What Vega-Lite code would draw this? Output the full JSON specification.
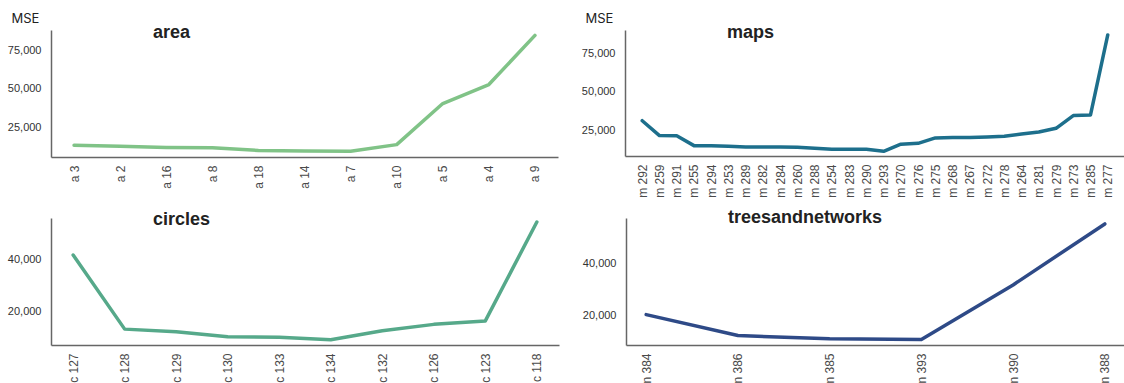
{
  "$schema": "https://vega.github.io/schema/vega-lite/v6.json",
  "background": "#ffffff",
  "padding": {"left": 7, "top": 12, "right": 0, "bottom": 0},
  "datasets": {
    "area": [
      {"label": "a 3", "mse": 13600}, {"label": "a 2", "mse": 12900}, {"label": "a 16", "mse": 12100},
      {"label": "a 8", "mse": 11900}, {"label": "a 18", "mse": 10200}, {"label": "a 14", "mse": 9900},
      {"label": "a 7", "mse": 9700}, {"label": "a 10", "mse": 14000}, {"label": "a 5", "mse": 40500},
      {"label": "a 4", "mse": 52800}, {"label": "a 9", "mse": 84500}
    ],
    "maps": [
      {"label": "m 292", "mse": 31400}, {"label": "m 259", "mse": 21800}, {"label": "m 291", "mse": 21700},
      {"label": "m 255", "mse": 15300}, {"label": "m 294", "mse": 15300}, {"label": "m 253", "mse": 14900},
      {"label": "m 289", "mse": 14400}, {"label": "m 282", "mse": 14400}, {"label": "m 284", "mse": 14400},
      {"label": "m 260", "mse": 14200}, {"label": "m 288", "mse": 13600}, {"label": "m 254", "mse": 12900},
      {"label": "m 283", "mse": 12900}, {"label": "m 290", "mse": 12900}, {"label": "m 293", "mse": 11600},
      {"label": "m 270", "mse": 16200}, {"label": "m 276", "mse": 16800}, {"label": "m 275", "mse": 20300},
      {"label": "m 268", "mse": 20500}, {"label": "m 267", "mse": 20500}, {"label": "m 272", "mse": 20900},
      {"label": "m 278", "mse": 21300}, {"label": "m 264", "mse": 22800}, {"label": "m 281", "mse": 24100},
      {"label": "m 279", "mse": 26500}, {"label": "m 273", "mse": 34700}, {"label": "m 285", "mse": 35100},
      {"label": "m 277", "mse": 86800}
    ],
    "circles": [
      {"label": "c 127", "mse": 41500}, {"label": "c 128", "mse": 13500}, {"label": "c 129", "mse": 12500},
      {"label": "c 130", "mse": 10600}, {"label": "c 133", "mse": 10400}, {"label": "c 134", "mse": 9500},
      {"label": "c 132", "mse": 12900}, {"label": "c 126", "mse": 15300}, {"label": "c 123", "mse": 16600},
      {"label": "c 118", "mse": 54000}
    ],
    "trees": [
      {"label": "n 384", "mse": 20400}, {"label": "n 386", "mse": 12300}, {"label": "n 385", "mse": 11100},
      {"label": "n 393", "mse": 10800}, {"label": "n 390", "mse": 31900}, {"label": "n 388", "mse": 55500}
    ]
  },
  "bounds": "flush",
  "spacing": 188,
  "vconcat": [
    {
      "bounds": "flush",
      "spacing": 67,
      "hconcat": [
        {
          "data": {"name": "area"},
          "width": 507,
          "height": 127,
          "title": {"text": "area", "dx": 102, "dy": 34},
          "mark": {"type": "line", "color": "#80c387", "strokeWidth": 3.5, "strokeCap": "round", "strokeJoin": "round"},
          "encoding": {
            "x": {"field": "label", "type": "nominal", "sort": null, "scale": {"type": "point", "padding": 0.5}, "axis": {"title": null}},
            "y": {"field": "mse", "type": "quantitative", "scale": {"domain": [6000, 88000], "nice": false, "zero": false},
                  "axis": {"title": "MSE", "values": [25000, 50000, 75000], "format": ",.0f"}}
          }
        },
        {
          "data": {"name": "maps"},
          "width": 500,
          "height": 126,
          "title": {"text": "maps", "dx": 102, "dy": 34},
          "mark": {"type": "line", "color": "#1d6f8c", "strokeWidth": 3.5, "strokeCap": "round", "strokeJoin": "round"},
          "encoding": {
            "x": {"field": "label", "type": "nominal", "sort": null, "scale": {"type": "point", "padding": 1.3}, "axis": {"title": null}},
            "y": {"field": "mse", "type": "quantitative", "scale": {"domain": [8600, 90000], "nice": false, "zero": false},
                  "axis": {"title": "MSE", "values": [25000, 50000, 75000], "format": ",.0f"}}
          }
        }
      ]
    },
    {
      "bounds": "flush",
      "spacing": 67,
      "hconcat": [
        {
          "data": {"name": "circles"},
          "width": 508,
          "height": 127,
          "title": {"text": "circles", "dx": 102, "dy": 15},
          "mark": {"type": "line", "color": "#56a98a", "strokeWidth": 3.5, "strokeCap": "round", "strokeJoin": "round"},
          "encoding": {
            "x": {"field": "label", "type": "nominal", "sort": null, "scale": {"type": "point", "padding": 0.43}, "axis": {"title": null}},
            "y": {"field": "mse", "type": "quantitative", "scale": {"domain": [7500, 55500], "nice": false, "zero": false},
                  "axis": {"title": null, "values": [20000, 40000], "format": ",.0f"}}
          }
        },
        {
          "data": {"name": "trees"},
          "width": 499,
          "height": 127,
          "title": {"text": "treesandnetworks", "dx": 102, "dy": 13},
          "mark": {"type": "line", "color": "#2e4a87", "strokeWidth": 3.5, "strokeCap": "round", "strokeJoin": "round"},
          "encoding": {
            "x": {"field": "label", "type": "nominal", "sort": null, "scale": {"type": "point", "padding": 0.22}, "axis": {"title": null}},
            "y": {"field": "mse", "type": "quantitative", "scale": {"domain": [8650, 57800], "nice": false, "zero": false},
                  "axis": {"title": null, "values": [20000, 40000], "format": ",.0f"}}
          }
        }
      ]
    }
  ],
  "config": {
    "view": {"stroke": null},
    "title": {
      "anchor": "start",
      "frame": "group",
      "font": "Liberation Sans",
      "fontSize": 18,
      "fontWeight": "bold",
      "color": "#222222",
      "baseline": "alphabetic",
      "offset": 0
    },
    "axis": {
      "domainColor": "#666666",
      "domainWidth": 1.5,
      "ticks": false,
      "grid": false,
      "labelFont": "Liberation Sans",
      "labelFontSize": 11,
      "labelColor": "#333333",
      "labelPadding": 8
    },
    "axisX": {"labelAngle": -90, "labelColor": "#4a4a4a", "labelFontSize": 12},
    "axisY": {
      "labelPadding": 10,
      "titleAngle": 0,
      "titleFont": "Inter",
      "titleFontSize": 13,
      "titleFontWeight": "normal",
      "titleColor": "#222222",
      "titleAlign": "left",
      "titleBaseline": "middle",
      "titleX": -40,
      "titleY": -12
    }
  }
}
